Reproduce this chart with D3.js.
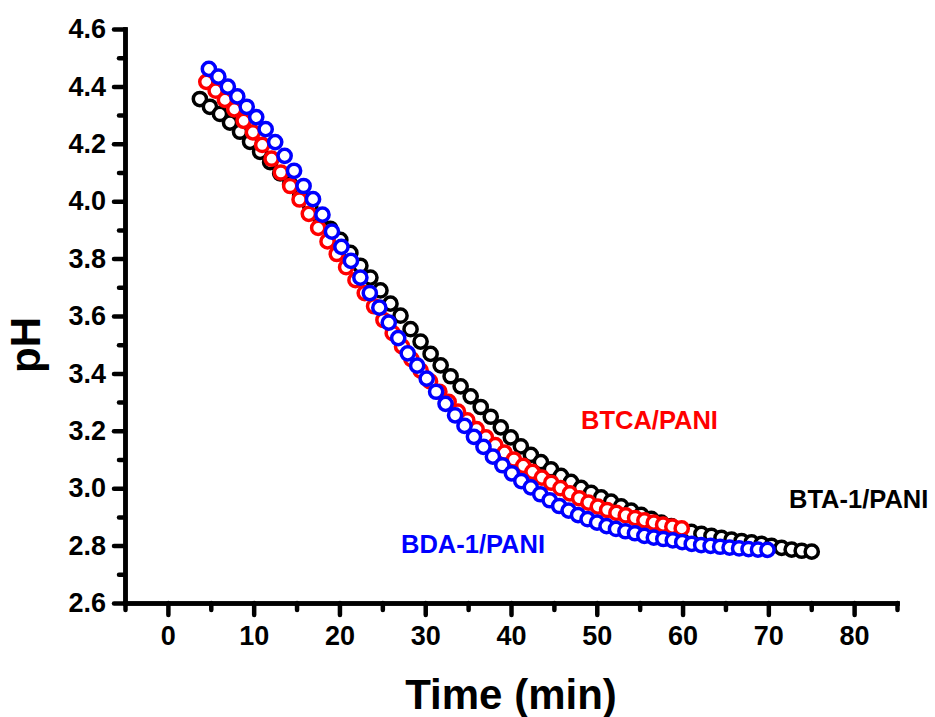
<!DOCTYPE html>
<html>
<head>
<meta charset="utf-8">
<script src="https://cdn.jsdelivr.net/npm/d3@7/dist/d3.min.js"></script>
<style>
  html, body { margin: 0; padding: 0; background: #fff; }
  svg { display: block; }
  text { font-family: "Liberation Sans", Arial, Helvetica, sans-serif; font-weight: bold; }
</style>
</head>
<body>
<svg id="chart" width="935" height="717"></svg>
<script>
// pH of each polyaniline sample against time
const btaTime = [3.73, 4.90, 6.07, 7.24, 8.41, 9.58, 10.75, 11.92, 13.09, 14.25, 15.42, 16.59, 17.76, 18.93, 20.10,
  21.27, 22.44, 23.61, 24.78, 25.95, 27.12, 28.29, 29.46, 30.63, 31.80, 32.96, 34.13, 35.30, 36.47, 37.64, 38.81,
  39.98, 41.15, 42.32, 43.49, 44.66, 45.83, 47.00, 48.17, 49.34, 50.51, 51.67, 52.84, 54.01, 55.18, 56.35, 57.52,
  58.69, 59.86, 61.03, 62.20, 63.37, 64.54, 65.71, 66.88, 68.05, 69.22, 70.38, 71.55, 72.72, 73.89, 75.06];
const btaPH = [4.356, 4.329, 4.304, 4.274, 4.242, 4.207, 4.172, 4.136, 4.097, 4.059, 4.020, 3.982, 3.943, 3.904, 3.865,
  3.820, 3.775, 3.734, 3.689, 3.643, 3.601, 3.554, 3.511, 3.468, 3.428, 3.390, 3.355, 3.320, 3.283, 3.249, 3.212,
  3.177, 3.146, 3.116, 3.091, 3.066, 3.043, 3.022, 3.001, 2.984, 2.968, 2.953, 2.937, 2.922, 2.907, 2.893, 2.880,
  2.868, 2.857, 2.848, 2.841, 2.834, 2.827, 2.821, 2.816, 2.811, 2.806, 2.799, 2.792, 2.786, 2.782, 2.779];

const btcaTime = [4.48, 5.57, 6.65, 7.74, 8.83, 9.91, 11.00, 12.09, 13.17, 14.26, 15.35, 16.43, 17.52, 18.61, 19.69,
  20.78, 21.87, 22.95, 24.04, 25.13, 26.21, 27.30, 28.39, 29.47, 30.56, 31.65, 32.73, 33.82, 34.91, 35.99, 37.08,
  38.17, 39.25, 40.34, 41.43, 42.51, 43.60, 44.69, 45.77, 46.86, 47.95, 49.03, 50.12, 51.21, 52.29, 53.38, 54.47,
  55.55, 56.64, 57.73, 58.81, 59.90];
const btcaPH = [4.416, 4.385, 4.353, 4.320, 4.280, 4.240, 4.196, 4.148, 4.100, 4.053, 4.006, 3.956, 3.907, 3.860, 3.816,
  3.770, 3.725, 3.680, 3.634, 3.586, 3.540, 3.494, 3.450, 3.410, 3.372, 3.336, 3.301, 3.267, 3.236, 3.206, 3.177,
  3.150, 3.124, 3.100, 3.078, 3.057, 3.037, 3.019, 3.000, 2.982, 2.965, 2.950, 2.936, 2.924, 2.914, 2.905, 2.896,
  2.888, 2.880, 2.873, 2.866, 2.860];

const bdaTime = [4.78, 5.88, 6.99, 8.09, 9.19, 10.30, 11.40, 12.51, 13.61, 14.71, 15.82, 16.92, 18.02, 19.13, 20.23,
  21.34, 22.44, 23.54, 24.65, 25.75, 26.85, 27.96, 29.06, 30.17, 31.27, 32.37, 33.48, 34.58, 35.68, 36.79, 37.89,
  38.99, 40.10, 41.20, 42.31, 43.41, 44.51, 45.62, 46.72, 47.82, 48.93, 50.03, 51.14, 52.24, 53.34, 54.45, 55.55,
  56.65, 57.76, 58.86, 59.96, 61.07, 62.17, 63.27, 64.38, 65.48, 66.59, 67.69, 68.79, 69.90];
const bdaPH = [4.461, 4.434, 4.399, 4.365, 4.329, 4.293, 4.251, 4.206, 4.158, 4.106, 4.053, 4.007, 3.953, 3.894, 3.841,
  3.792, 3.734, 3.680, 3.629, 3.577, 3.523, 3.470, 3.427, 3.382, 3.336, 3.294, 3.254, 3.217, 3.179, 3.144, 3.110,
  3.080, 3.052, 3.025, 3.003, 2.979, 2.958, 2.938, 2.922, 2.906, 2.892, 2.880, 2.868, 2.858, 2.850, 2.843, 2.834,
  2.828, 2.823, 2.818, 2.812, 2.806, 2.802, 2.799, 2.796, 2.793, 2.790, 2.788, 2.786, 2.785];

const seriesNames = ["BTA-1/PANI", "BTCA/PANI", "BDA-1/PANI"];
const seriesColors = ["#000000", "#ff0000", "#0000ff"];

const xMajorTicks = [0, 10, 20, 30, 40, 50, 60, 70, 80];
const xMinorTicks = [-5, 5, 15, 25, 35, 45, 55, 65, 75, 85];
const yMajorTicks = [2.6, 2.8, 3.0, 3.2, 3.4, 3.6, 3.8, 4.0, 4.2, 4.4, 4.6];
const yMinorTicks = [2.7, 2.9, 3.1, 3.3, 3.5, 3.7, 3.9, 4.1, 4.3, 4.5];

const series = [
  { name: seriesNames[0], color: seriesColors[0], t: btaTime, ph: btaPH },
  { name: seriesNames[1], color: seriesColors[1], t: btcaTime, ph: btcaPH },
  { name: seriesNames[2], color: seriesColors[2], t: bdaTime, ph: bdaPH }
];

const svg = d3.select("#chart");
const x = d3.scaleLinear().domain([-5, 85]).range([125, 897]);
const y = d3.scaleLinear().domain([2.6, 4.6]).range([603, 29]);
const axisWidth = 4.5;

// Axes
function styleAxis(g) {
  g.select(".domain").attr("stroke", "#000").attr("stroke-width", axisWidth).attr("stroke-linecap", "square");
  g.selectAll(".tick line").attr("stroke", "#000").attr("stroke-width", axisWidth).attr("stroke-linecap", "round");
}

const xAxisY = y(2.6);
const yAxisX = x(-5);

svg.append("g")
  .attr("transform", `translate(0,${xAxisY})`)
  .call(d3.axisBottom(x).tickValues(xMinorTicks).tickSize(7).tickSizeOuter(0).tickFormat(""))
  .call(styleAxis);

const gx = svg.append("g")
  .attr("transform", `translate(0,${xAxisY})`)
  .call(d3.axisBottom(x).tickValues(xMajorTicks).tickSize(12).tickSizeOuter(0).tickPadding(11).tickFormat(d3.format("d")))
  .call(styleAxis);
gx.selectAll(".tick text").attr("font-size", 27).attr("fill", "#000")
  .attr("font-family", "'Liberation Sans', Arial, sans-serif").attr("font-weight", "bold");

svg.append("g")
  .attr("transform", `translate(${yAxisX},0)`)
  .call(d3.axisLeft(y).tickValues(yMinorTicks).tickSize(6).tickSizeOuter(0).tickFormat(""))
  .call(styleAxis);

const gy = svg.append("g")
  .attr("transform", `translate(${yAxisX},0)`)
  .call(d3.axisLeft(y).tickValues(yMajorTicks).tickSize(11).tickSizeOuter(0).tickPadding(8).tickFormat(d3.format(".1f")))
  .call(styleAxis);
gy.selectAll(".tick text").attr("font-size", 27).attr("fill", "#000")
  .attr("font-family", "'Liberation Sans', Arial, sans-serif").attr("font-weight", "bold");

// Axis titles
svg.append("text")
  .attr("x", (x(-5) + x(85)) / 2)
  .attr("y", 709)
  .attr("text-anchor", "middle")
  .attr("font-size", 42)
  .text("Time (min)");

svg.append("text")
  .attr("transform", `translate(40,345) rotate(-90)`)
  .attr("text-anchor", "middle")
  .attr("font-size", 42)
  .text("pH");

// Open-circle markers, one group per sample
series.forEach(s => {
  const pts = s.t.map((t, i) => ({ t, ph: s.ph[i] }));
  svg.append("g")
    .selectAll("circle")
    .data(pts)
    .join("circle")
    .attr("cx", d => x(d.t))
    .attr("cy", d => y(d.ph))
    .attr("r", 6.6)
    .attr("fill", "#fff")
    .attr("stroke", s.color)
    .attr("stroke-width", 3.5);
});

// Series labels
const labels = [
  { text: seriesNames[1], color: seriesColors[1], x: 581, y: 429 },
  { text: seriesNames[0], color: seriesColors[0], x: 789, y: 508 },
  { text: seriesNames[2], color: seriesColors[2], x: 401, y: 553 }
];
svg.append("g").selectAll("text")
  .data(labels)
  .join("text")
  .attr("x", d => d.x)
  .attr("y", d => d.y)
  .attr("fill", d => d.color)
  .attr("font-size", 25.5)
  .text(d => d.text);
</script>
</body>
</html>
